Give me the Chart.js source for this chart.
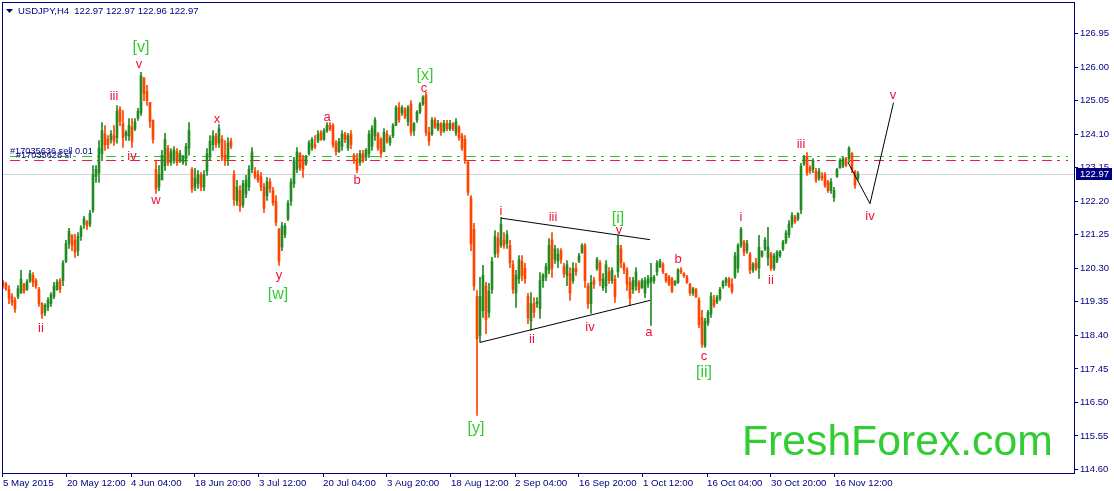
<!DOCTYPE html>
<html>
<head>
<meta charset="utf-8">
<title>USDJPY,H4</title>
<script src="https://cdn.jsdelivr.net/npm/chart.js@4/dist/chart.umd.min.js"></script>
<style>
  html, body { margin: 0; padding: 0; background: #ffffff; }
  canvas { display: block; }
</style>
</head>
<body>
<canvas id="grafica" width="1114" height="491"></canvas>
<script>
// Precios H4, una fila = 20 velas
const barHigh = [
119.95,119.90,119.81,119.58,119.47,119.81,120.24,119.87,119.98,120.24,120.18,120.01,119.76,119.33,119.30,119.47,119.61,119.90,119.98,120.01,
120.52,121.09,121.43,121.23,121.26,121.31,121.51,121.77,121.65,121.94,123.21,123.21,123.92,124.43,124.34,124.06,124.20,124.34,124.91,124.88,
124.77,124.20,124.54,124.54,124.54,124.83,125.85,125.62,125.48,124.91,124.49,123.35,123.21,123.64,124.12,123.78,123.69,123.75,123.69,123.64,
123.50,123.84,124.43,123.15,123.13,123.07,123.01,123.07,123.69,124.06,124.20,124.12,124.37,124.06,123.92,124.00,123.98,123.07,122.79,122.64,
122.79,122.93,123.21,123.72,123.15,123.07,123.01,122.70,122.87,122.84,122.59,122.36,121.43,121.60,121.57,122.22,122.84,123.44,123.72,123.58,
123.50,123.50,123.92,124.00,124.06,124.20,124.20,124.26,124.43,124.43,124.40,123.92,123.98,124.20,124.15,124.12,124.20,123.55,123.55,123.64,
123.64,123.69,124.20,124.34,124.57,124.15,124.00,124.26,124.20,124.06,124.40,124.91,124.99,124.91,124.85,124.91,125.05,124.43,124.77,124.99,
125.19,125.28,124.29,124.57,124.57,124.49,124.43,124.49,124.49,124.49,124.43,124.54,124.34,124.12,124.06,123.35,122.36,121.57,119.67,120.04,
120.38,119.90,119.87,120.61,121.37,121.31,121.74,121.31,121.37,121.09,120.52,120.24,120.66,120.66,120.44,119.59,119.61,119.47,119.47,120.18,
120.15,120.44,121.14,121.31,120.95,120.86,120.86,120.44,120.52,120.32,120.46,120.44,120.72,121.00,121.00,119.87,120.10,120.04,120.61,120.52,
120.15,120.52,120.32,120.32,120.10,121.23,120.95,120.46,120.32,120.04,120.04,120.32,119.95,120.01,120.04,120.10,120.44,120.10,120.52,120.55,
120.46,120.15,120.10,120.04,119.95,120.29,120.32,120.18,120.10,119.87,119.76,119.73,119.47,119.11,118.88,119.11,119.61,119.53,119.53,119.76,
119.95,120.04,120.04,120.01,120.75,121.00,121.46,121.09,121.09,120.75,120.46,120.58,121.23,120.80,121.17,121.46,120.75,120.72,120.80,120.80,
121.09,121.37,121.65,121.88,121.80,121.88,123.27,123.50,123.58,123.21,123.41,123.13,123.13,123.01,123.01,122.79,122.84,122.59,123.13,123.41,
123.44,123.44,123.75,123.58,123.07,123.04
];
const barLow = [
119.73,119.67,119.30,119.25,119.05,119.44,119.59,119.59,119.67,119.90,119.78,119.73,119.22,118.88,118.96,119.10,119.22,119.44,119.67,119.61,
119.81,120.46,120.86,120.80,120.61,120.66,121.09,121.43,121.40,121.48,121.88,122.73,122.73,123.35,123.64,123.69,123.84,123.78,123.84,124.34,
123.72,123.92,123.92,123.72,124.20,124.49,124.63,125.05,124.91,124.29,123.84,122.42,122.50,122.93,123.07,123.21,123.21,123.27,123.21,123.30,
123.24,123.21,123.50,122.45,122.50,122.56,122.50,122.50,122.93,123.35,123.64,123.72,123.72,123.35,123.21,123.21,123.69,122.08,122.08,121.91,
122.02,122.30,122.50,123.01,122.84,122.73,122.50,121.88,122.22,122.45,122.08,121.51,120.38,120.80,121.17,121.65,122.08,122.59,123.01,123.07,
122.87,123.21,123.50,123.64,123.69,123.86,123.92,123.92,124.15,124.20,123.72,123.50,123.58,123.64,123.86,123.64,123.69,123.27,123.01,123.21,
123.30,123.35,123.44,123.64,123.92,123.64,123.44,123.78,123.84,123.78,124.00,124.34,124.43,124.63,124.54,124.34,124.06,124.06,124.43,124.68,
124.91,124.06,123.78,124.06,124.26,124.20,124.06,124.15,124.20,124.20,124.20,124.06,123.92,123.64,123.27,122.36,120.80,119.67,116.13,118.20,
118.91,118.45,118.91,119.59,120.61,120.61,120.89,120.86,120.86,120.32,119.59,119.19,119.87,119.95,119.87,118.73,118.54,118.91,119.19,118.88,
119.76,119.95,120.15,120.04,120.44,120.32,120.44,120.04,119.81,119.39,119.87,120.10,120.46,120.72,119.76,119.16,119.02,119.73,120.24,119.81,
119.67,119.61,119.87,119.87,119.33,120.04,120.32,120.15,119.67,119.25,119.59,119.67,119.61,119.73,119.47,119.76,118.68,119.87,120.10,120.32,
120.15,119.90,119.81,119.61,119.81,119.87,120.15,120.04,119.87,119.53,119.53,119.47,118.62,118.06,118.06,118.68,118.91,119.19,119.30,119.39,
119.73,119.81,119.76,119.59,120.01,120.18,120.89,120.66,120.72,120.15,120.18,120.24,120.01,120.61,120.80,120.38,120.24,120.24,120.46,120.61,
120.80,121.00,121.17,121.46,121.57,121.65,121.85,123.21,122.93,122.99,123.01,122.73,122.79,122.79,122.59,122.45,122.42,122.19,122.87,123.13,
123.15,123.18,123.30,123.01,122.56,122.79
];
const barOpen = [
119.92,119.85,119.70,119.50,119.40,119.50,119.60,119.85,119.70,119.95,120.10,119.95,119.70,119.30,119.05,119.20,119.30,119.50,119.70,119.95,
119.95,120.50,121.00,121.25,121.10,120.80,121.20,121.55,121.62,121.55,121.95,122.90,123.00,123.55,124.10,123.95,123.95,124.05,124.00,124.80,
124.40,124.05,124.05,124.30,124.25,124.55,124.70,125.70,125.30,125.00,124.50,123.10,122.60,122.80,123.20,123.70,123.30,123.35,123.60,123.35,
123.30,123.40,123.70,123.10,122.60,122.70,122.95,122.60,123.05,123.50,123.80,124.05,123.85,123.95,123.50,123.40,123.90,122.95,122.20,122.50,
122.10,122.40,122.60,123.10,123.05,122.95,122.90,122.60,122.35,122.75,122.50,122.20,121.40,120.90,121.25,121.70,122.20,122.70,123.10,123.55,
123.40,123.25,123.55,123.70,123.80,123.90,124.15,123.95,124.20,124.35,124.35,123.85,123.60,123.75,124.10,123.70,124.10,123.50,123.40,123.30,
123.55,123.45,123.55,123.75,124.05,124.10,123.95,123.60,124.10,123.85,124.05,124.35,124.85,124.70,124.80,124.45,124.95,124.20,124.50,124.72,
124.95,125.20,124.15,124.10,124.50,124.25,124.40,124.20,124.40,124.25,124.40,124.15,124.30,124.05,123.95,123.30,122.30,121.40,119.50,118.40,
119.10,119.80,119.05,119.70,120.70,121.15,120.95,121.10,121.00,120.95,120.40,119.60,120.00,120.50,120.30,119.50,118.80,119.30,119.30,119.15,
119.95,120.05,120.25,121.10,120.55,120.50,120.80,120.35,120.10,120.15,119.95,120.30,120.50,120.75,120.95,119.80,119.30,119.95,120.30,120.45,
119.75,119.80,120.20,119.95,120.00,120.20,120.85,120.40,120.25,119.90,119.70,119.80,119.90,119.75,119.60,119.85,119.90,119.95,120.20,120.35,
120.40,120.15,120.05,120.00,119.85,119.90,120.25,120.15,120.05,119.85,119.60,119.70,119.40,118.90,118.10,118.75,119.00,119.40,119.35,119.45,
119.78,119.90,120.00,119.85,120.05,120.30,120.95,121.05,120.80,120.70,120.25,120.45,120.30,120.65,120.85,120.60,120.70,120.30,120.50,120.65,
120.85,121.05,121.25,121.55,121.75,121.70,121.95,123.25,123.45,123.15,123.10,123.05,122.85,122.90,122.95,122.75,122.50,122.30,122.90,123.15,
123.20,123.40,123.40,123.55,123.05,122.85
];
const barClose = [
119.80,119.72,119.45,119.32,119.15,119.72,120.00,119.65,119.92,120.15,119.90,119.80,119.30,119.00,119.25,119.40,119.55,119.80,119.90,119.70,
120.45,121.00,121.35,120.95,120.75,121.20,121.45,121.70,121.50,121.85,122.95,123.10,123.70,124.20,123.80,123.80,124.10,123.90,124.75,124.45,
124.00,124.15,124.35,123.90,124.45,124.75,125.75,125.25,125.05,124.45,123.95,122.55,122.95,123.50,123.95,123.30,123.60,123.65,123.30,123.55,
123.45,123.75,124.20,122.55,122.85,122.95,122.60,122.95,123.55,123.90,124.05,123.80,124.25,123.45,123.35,123.85,123.75,122.25,122.60,122.05,
122.70,122.80,123.10,123.60,122.90,122.80,122.60,122.00,122.75,122.55,122.15,121.60,120.50,121.50,121.50,122.15,122.75,123.35,123.60,123.15,
123.10,123.45,123.85,123.95,123.75,124.10,123.95,124.20,124.35,124.25,123.80,123.60,123.90,124.10,123.95,124.05,123.80,123.35,123.10,123.55,
123.35,123.65,124.10,124.25,124.50,123.70,123.55,124.15,123.90,124.00,124.35,124.85,124.50,124.85,124.58,124.85,124.15,124.40,124.72,124.95,
125.15,124.15,123.90,124.50,124.30,124.40,124.15,124.40,124.25,124.40,124.25,124.45,124.00,123.70,123.35,122.45,121.00,119.80,118.30,119.50,
120.10,118.85,119.65,120.50,121.20,120.75,121.55,120.95,121.25,120.45,119.70,120.10,120.55,120.10,120.00,118.90,119.30,119.05,119.35,119.95,
120.10,120.35,120.95,120.30,120.85,120.70,120.55,120.15,120.40,119.60,120.30,120.20,120.65,120.95,119.95,119.30,119.90,119.85,120.55,119.95,
120.00,120.40,119.95,120.25,119.50,120.95,120.45,120.25,119.85,119.45,119.95,120.20,119.70,119.95,119.95,120.00,120.05,120.05,120.45,120.50,
120.20,119.95,119.85,119.65,119.92,120.25,120.20,120.08,119.90,119.60,119.72,119.50,118.70,118.15,118.80,119.05,119.50,119.25,119.48,119.70,
119.92,120.00,119.80,119.65,120.65,120.95,121.40,120.75,121.00,120.25,120.42,120.30,120.90,120.78,121.10,120.90,120.30,120.65,120.75,120.78,
121.05,121.30,121.55,121.80,121.62,121.85,123.20,123.45,123.00,123.05,123.35,122.80,123.05,122.85,122.65,122.50,122.75,122.50,123.10,123.35,
123.40,123.22,123.70,123.10,122.65,122.97
];

// Eje de tiempo: posicion en velas y texto
const timeTicks = [0, 21.33, 42.67, 64, 85.33, 106.67, 128, 149.33, 170.67, 192, 213.33, 234.67, 256, 277.33];
const timeLabels = ['5 May 2015', '20 May 12:00', '4 Jun 04:00', '18 Jun 20:00', '3 Jul 12:00', '20 Jul 04:00', '3 Aug 20:00',
    '18 Aug 12:00', '2 Sep 04:00', '16 Sep 20:00', '1 Oct 12:00', '16 Oct 04:00', '30 Oct 20:00', '16 Nov 12:00'];
const priceTicks = [126.95, 126.00, 125.05, 124.10, 123.15, 122.20, 121.25, 120.30, 119.35, 118.40, 117.45, 116.50, 115.55, 114.60];

// Etiquetas de ondas
const minorText = ['v', 'iii', 'iv', 'w', 'ii', 'x', 'y', 'a', 'b', 'c', 'i', 'iii', 'v', 'ii', 'iv', 'a', 'b', 'c', 'i', 'ii', 'iii', 'iv', 'v'];
const minorBar = [45.33, 37, 43, 51, 12.67, 71.33, 92, 108, 118, 140.33, 166, 183.33, 205.33, 176.33, 195.67, 215.33, 225, 233.67, 246, 256, 266, 289, 296.67];
const minorPrice = [126.07, 125.17, 123.47, 122.22, 118.60, 124.51, 120.10, 124.57, 122.79, 125.39, 121.91, 121.74, 121.37, 118.28, 118.62, 118.48, 120.55, 117.80, 121.74, 119.95, 123.81, 121.77, 125.19];
const majorText = ['[v]', '[x]', '[w]', '[y]', '[i]', '[ii]'];
const majorBar = [46, 140.67, 91.67, 157.67, 205, 233.67];
const majorPrice = [126.55, 125.76, 119.56, 115.76, 121.71, 117.35];

// Lineas dibujadas sobre el grafico
const upperLine = [{ x: 166, y: 121.72 }, { x: 215.67, y: 121.11 }];
const lowerLine = [{ x: 159, y: 118.20 }, { x: 215.67, y: 119.39 }];
const projection = [{ x: 281.67, y: 123.30 }, { x: 289, y: 122.13 }, { x: 296.83, y: 124.99 }];
const sellPrice = 123.466;
const stopPrice = 123.353;
const bidPrice = 122.955;
const lastPrice = 122.97;

const NAVY = '#000080';
const VERDE = '#228B22';
const NARANJA = '#FF4500';
const FUENTE = '"Liberation Sans", sans-serif';

const wicks = barHigh.map((h, i) => ({ x: i, y: [barLow[i], h] }));
const bodies = barOpen.map((o, i) => ({ x: i, y: [o, barClose[i]] }));
const barColors = barOpen.map((o, i) => (barClose[i] >= o ? VERDE : NARANJA));

function flatLine(price, from, to) {
    return [{ x: from, y: price }, { x: to, y: price }];
}

function lineSet(data, color, dash, order) {
    return {
        type: 'line', data: data, borderColor: color, borderWidth: 1, borderDash: dash || [],
        pointRadius: 0, tension: 0, order: order
    };
}

const marcas = {
    id: 'marcas',
    afterDatasetsDraw(chart) {
        const { ctx, chartArea, scales } = chart;
        const { x, y } = scales;
        ctx.save();

        // ondas
        ctx.textAlign = 'center';
        ctx.textBaseline = 'middle';
        ctx.font = '13px ' + FUENTE;
        ctx.fillStyle = '#F0103C';
        minorText.forEach((t, i) => ctx.fillText(t, x.getPixelForValue(minorBar[i]), y.getPixelForValue(minorPrice[i])));
        ctx.font = '16px ' + FUENTE;
        ctx.fillStyle = '#32CD32';
        majorText.forEach((t, i) => ctx.fillText(t, x.getPixelForValue(majorBar[i]), y.getPixelForValue(majorPrice[i])));

        // ordenes abiertas
        ctx.textAlign = 'left';
        ctx.font = '9.2px ' + FUENTE;
        ctx.fillStyle = NAVY;
        ctx.fillText('#17035636 sell 0.01', 10, 151);
        ctx.fillText('#17035628 sl', 16, 155);

        // marca de agua
        ctx.font = '42.7px ' + FUENTE;
        ctx.fillStyle = '#32CD32';
        ctx.textBaseline = 'alphabetic';
        ctx.fillText('FreshForex.com', 742, 455);

        // marco
        ctx.strokeStyle = NAVY;
        ctx.lineWidth = 1;
        ctx.strokeRect(chartArea.left + 0.5, chartArea.top + 0.5, chartArea.width, chartArea.height);

        // cabecera
        ctx.fillStyle = NAVY;
        ctx.beginPath();
        ctx.moveTo(6, 9);
        ctx.lineTo(13, 9);
        ctx.lineTo(9.5, 13);
        ctx.closePath();
        ctx.fill();
        ctx.font = '9.5px ' + FUENTE;
        ctx.textBaseline = 'middle';
        ctx.fillText('USDJPY,H4  122.97 122.97 122.96 122.97', 18, 11);

        // precio actual
        const py = Math.round(y.getPixelForValue(lastPrice));
        ctx.fillRect(chartArea.right + 2, py - 6, 36, 12);
        ctx.fillStyle = '#ffffff';
        ctx.font = '9.5px ' + FUENTE;
        ctx.fillText(lastPrice.toFixed(2), chartArea.right + 6, py);
        ctx.restore();
    }
};

new Chart(document.getElementById('grafica'), {
    type: 'bar',
    data: {
        datasets: [
            lineSet(flatLine(bidPrice, -0.33, 357), '#D3D3D3', [], 5),
            lineSet(flatLine(sellPrice, 2.33, 355), '#22CC22', [10, 5, 3, 6], 4),
            lineSet(flatLine(stopPrice, 2.33, 355), '#F0103C', [10, 5, 3, 6], 4),
            { data: wicks, backgroundColor: barColors, barThickness: 1, grouped: false, order: 3 },
            { data: bodies, backgroundColor: barColors, barThickness: 2, grouped: false, order: 2 },
            lineSet(upperLine, '#000000', [], 1),
            lineSet(lowerLine, '#000000', [], 1),
            lineSet(projection, '#000000', [], 1)
        ]
    },
    options: {
        responsive: false,
        animation: false,
        layout: { autoPadding: false, padding: { left: 2, top: 2, right: 0, bottom: 0 } },
        plugins: { legend: { display: false }, tooltip: { enabled: false }, title: { display: false } },
        scales: {
            x: {
                type: 'linear',
                min: -0.33,
                max: 357,
                offset: false,
                border: { display: false },
                grid: { offset: false, drawOnChartArea: false, tickColor: NAVY, tickLength: 4 },
                afterBuildTicks: s => { s.ticks = timeTicks.map(v => ({ value: v })); },
                afterFit: s => { s.height = 18; s.paddingLeft = 0; s.paddingRight = 0; },
                ticks: {
                    autoSkip: false, maxRotation: 0, align: 'start', padding: 1,
                    color: NAVY, font: { family: FUENTE, size: 9.7 },
                    callback: (v, i) => timeLabels[i]
                }
            },
            y: {
                position: 'right',
                min: 114.501,
                max: 127.842,
                border: { display: false },
                grid: { drawOnChartArea: false, tickColor: NAVY, tickLength: 4 },
                afterBuildTicks: s => { s.ticks = priceTicks.map(v => ({ value: v })); },
                afterFit: s => { s.width = 40; s.paddingTop = 0; s.paddingBottom = 0; },
                ticks: {
                    autoSkip: false, padding: 2,
                    color: NAVY, font: { family: FUENTE, size: 9.5 },
                    callback: v => v.toFixed(2)
                }
            }
        }
    },
    plugins: [marcas]
});
</script>
</body>
</html>
